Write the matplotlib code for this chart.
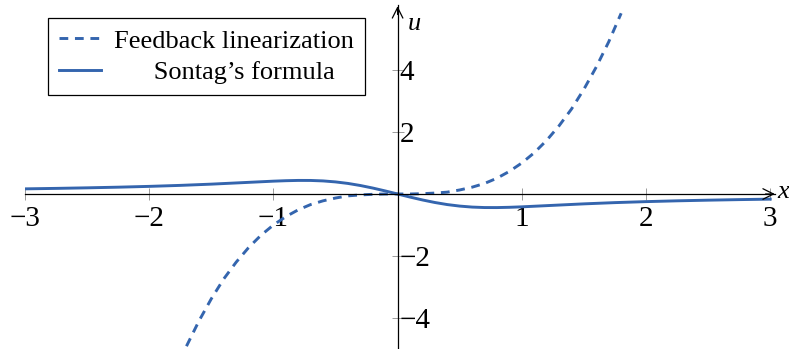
import matplotlib.pyplot as plt

# Feedback linearization (dashed)
x_fl = [-1.7, -1.6, -1.5, -1.4, -1.3, -1.2, -1.1, -1.0, -0.9, -0.8, -0.7, -0.6,
        -0.5, -0.4, -0.3, -0.2, -0.1, 0.0, 0.1, 0.2, 0.3, 0.4, 0.5, 0.6, 0.7,
        0.8, 0.9, 1.0, 1.1, 1.2, 1.3, 1.4, 1.5, 1.6, 1.7, 1.8]
u_fl = [-4.91, -4.10, -3.38, -2.74, -2.20, -1.73, -1.33, -1.00, -0.73, -0.51,
        -0.34, -0.22, -0.13, -0.06, -0.03, -0.01, 0.00, 0.00, 0.00, 0.01, 0.03,
        0.06, 0.13, 0.22, 0.34, 0.51, 0.73, 1.00, 1.33, 1.73, 2.20, 2.74, 3.38,
        4.10, 4.91, 5.83]

# Sontag's formula (solid)
x_s = [-3.0, -2.75, -2.5, -2.25, -2.0, -1.75, -1.5, -1.25, -1.0, -0.9, -0.8,
       -0.7, -0.6, -0.5, -0.4, -0.3, -0.2, -0.1, 0.0, 0.1, 0.2, 0.3, 0.4, 0.5,
       0.6, 0.7, 0.8, 0.9, 1.0, 1.25, 1.5, 1.75, 2.0, 2.25, 2.5, 2.75, 3.0]
u_s = [0.166, 0.181, 0.199, 0.220, 0.246, 0.278, 0.318, 0.366, 0.414, 0.429,
       0.438, 0.437, 0.422, 0.390, 0.341, 0.274, 0.192, 0.099, 0.0, -0.099,
       -0.192, -0.274, -0.341, -0.390, -0.422, -0.437, -0.438, -0.429, -0.414,
       -0.366, -0.318, -0.278, -0.246, -0.220, -0.199, -0.181, -0.166]

x_ticks = [-3, -2, -1, 1, 2, 3]
y_ticks = [-4, -2, 2, 4]

blue = '#3465ae'
plt.rcParams['font.family'] = ['Liberation Serif', 'DejaVu Serif']
plt.rcParams['font.size'] = 19

W, H = 789, 349
fig = plt.figure(figsize=(W / 100, H / 100), dpi=100)
# axes placed in pixels: x=-3 at 25px, 124.2 px per unit; y=-5 at bottom, 31 px per unit
xmin, xmax = -3, 3.04
ymin, ymax = -5, 6.1
ax = fig.add_axes([25 / W, 0, (xmax - xmin) * 124.2 / W, (ymax - ymin) * 31 / H])
ax.set_xlim(xmin, xmax)
ax.set_ylim(ymin, ymax)

ax.plot(x_fl, u_fl, color=blue, lw=2.1, ls=(0, (3, 2.3)), label='Feedback linearization')
ax.plot(x_s, u_s, color=blue, lw=2.1, label='      Sontag’s formula')

ax.spines['left'].set_visible(False)
ax.spines['top'].set_visible(False)
ax.spines['bottom'].set_position(('data', 0))
ax.spines['right'].set_position(('data', 0))
for s in ('bottom', 'right'):
    ax.spines[s].set_linewidth(0.9)
ax.yaxis.set_ticks_position('right')
ax.xaxis.set_ticks_position('bottom')

ax.set_xticks(x_ticks)
ax.set_xticklabels([str(t).replace('-', '−') for t in x_ticks])
ax.set_yticks(y_ticks)
ax.set_yticklabels([str(t).replace('-', '−') for t in y_ticks])
ax.tick_params(axis='both', direction='inout', length=9, width=0.6, color='#8c8c8c',
               labelsize=21)
ax.tick_params(axis='x', pad=4)
ax.tick_params(axis='y', pad=-3)

# arrow heads on the axes
ax.annotate('', xy=(xmax + 0.02, 0), xytext=(xmax - 0.1, 0),
            arrowprops=dict(arrowstyle='->', lw=0.9, color='black'), annotation_clip=False)
ax.annotate('', xy=(0, ymax + 0.05), xytext=(0, ymax - 0.4),
            arrowprops=dict(arrowstyle='->', lw=0.9, color='black'), annotation_clip=False)
ax.text(xmax + 0.015, 0.05, 'x', style='italic', fontsize=19, va='center', ha='left', clip_on=False)
ax.text(0.08, 5.5, 'u', style='italic', fontsize=19, va='center', ha='left')

ax.legend(loc='upper left', bbox_to_anchor=(48 / W, 1 - 18 / H), bbox_transform=fig.transFigure,
          borderaxespad=0, fancybox=False, framealpha=1, edgecolor='black',
          handlelength=1.6, labelspacing=0.3, borderpad=0.42, handletextpad=0.5,
          fontsize=19).get_frame().set_linewidth(0.9)

fig.savefig('out.png', dpi=100)
